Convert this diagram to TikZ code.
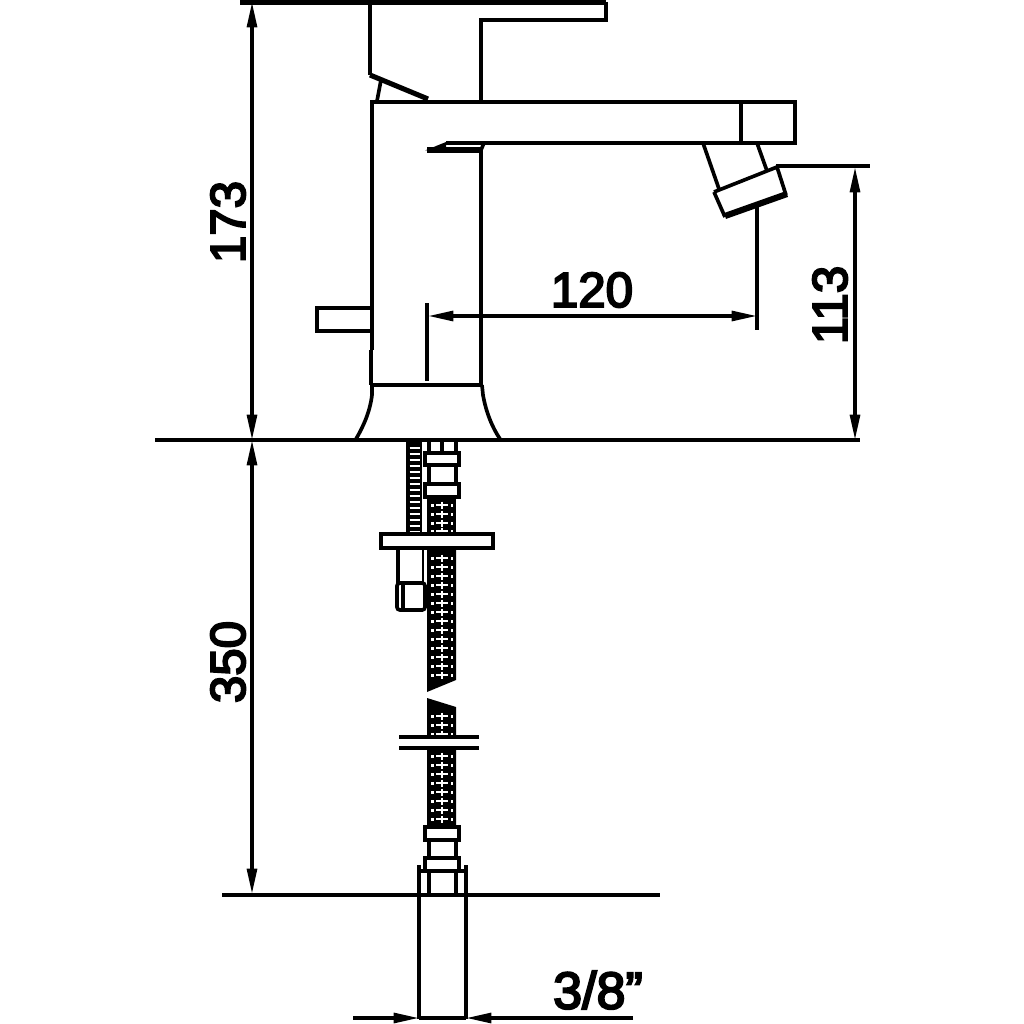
\documentclass[tikz,border=0pt]{standalone}
\usepackage{fontspec}
\setmainfont[FakeBold=4]{Liberation Sans}
\usetikzlibrary{arrows.meta}
\tikzset{
  part/.style={line width=2.6pt,line join=miter,line cap=butt},
  heavy/.style={line width=3.6pt},
  dimline/.style={{Stealth[length=18pt,width=7pt,inset=0pt]}-{Stealth[length=18pt,width=7pt,inset=0pt]},line width=2.4pt},
  dimarrow/.style={-{Stealth[length=18pt,width=7pt,inset=0pt]},line width=2.4pt},
  dimtext/.style={font=\fontsize{35}{35}\selectfont,inner sep=0pt},
  hosemark/.style={draw=white,line width=1.2pt}
}
\newcommand{\hosecell}[1]{%
  \draw[hosemark] (436,#1) -- (448,#1) (442,#1-3.5) -- (442,#1+3.5);
  \fill[white] (431,#1-1.5) rectangle (434,#1+1.5);
  \fill[white] (451,#1-1.5) rectangle (452.5,#1+1.5);
}
\begin{document}
\begin{tikzpicture}[x=0.025cm,y=-0.025cm]
\useasboundingbox[fill=white] (0,0) rectangle (1024,1024);
% upper lever
\draw[heavy] (240,2) -- (606,2);
\draw[part] (606,2) -- (606,20) -- (481,20) -- (481,100);
\draw[part] (370,2) -- (370,75);
\draw[heavy] (370,75) -- (428,99);
\draw[part] (381,80) -- (377,101);
% body and spout
\draw[part] (372,350) -- (372,102) -- (795,102) -- (795,143) -- (446,143);
\draw[part] (741,102) -- (741,143);
\draw[heavy] (427,150) -- (481,150);
\fill (425,150.5) -- (446,142) -- (446,150.5) -- cycle;
\draw[part] (484,143) -- (481,150) -- (481,385);
\draw[part] (371,350) -- (371,385);
\draw[part] (372,385) -- (482,385);
\draw[part] (372,385) -- (372,395) .. controls (370,412) and (363,427) .. (356,439);
\draw[part] (482,385) -- (483,395) .. controls (486,412) and (492,427) .. (500,439);
% lower lever
\draw[part] (372,308) -- (317,308) -- (317,331) -- (372,331);
% centre line
\draw[part] (427,303) -- (427,381);
% aerator
\draw[part] (703,143) -- (719,189);
\draw[part] (757,143) -- (767,171);
\draw[part] (714,192) -- (777,167) -- (786,195);
\draw[part] (714,192) -- (725,217);
\draw[line width=4.4pt] (725,216) -- (787,194);
% floor and datum lines
\draw[part] (155,440) -- (860,440);
\draw[part] (222,895) -- (660,895);
\draw[part] (776,166) -- (870,166);
\draw[part] (757,207) -- (757,330);
% ribbed hose
\fill (406,441) rectangle (422,534);
\foreach \y in {448,454,...,532}{\draw[white,line width=1.7pt] (409.5,\y) -- (419.5,\y);}
% braided hose
\fill (427,497) rectangle (456,534);
\fill (427,548) -- (456,548) -- (456,680) -- (427,692) -- cycle;
\fill (427,698) -- (456,707) -- (456,826) -- (427,826) -- cycle;
\foreach \y in {505,514,523,531,558,567,576,585,594,603,612,621,630,639,648,657,666,675,716,725,734,756,765,774,783,792,801,810,819}{\hosecell{\y}}
% upper fitting
\draw[part] (429,441) -- (429,453) (456,441) -- (456,453) (442,441) -- (442,453);
\draw[part,fill=white] (425,453) rectangle (459,465);
\draw[part] (429,465) -- (429,484) (456,465) -- (456,484);
\draw[part,fill=white] (425,484) rectangle (459,497);
% plate
\draw[part,fill=white] (381,534) rectangle (493,548);
% side fitting
\draw[part] (398,548) -- (398,583);
\draw[line width=1.6pt] (423,548) -- (423,583);
\draw[part,fill=white,rounded corners=2pt] (397,583) rectangle (425,610);
\draw[part] (403,583) -- (403,610);
% cut clips
\fill[white] (399,738) rectangle (479,747);
\draw[part] (399,737) -- (479,737) (399,748) -- (479,748);
% lower fitting
\draw[part,fill=white] (425,827) rectangle (459,840);
\draw[part] (429,840) -- (429,858) (456,840) -- (456,858);
\draw[part,fill=white] (425,858) rectangle (459,871);
\draw[part] (429,871) -- (429,895) (456,871) -- (456,895);
\draw[part] (420,871) -- (465,871);
\draw[part] (419,865) -- (419,1019) (466,865) -- (466,1019);
% dimensions
\coordinate (a1) at (252,2);  \coordinate (a2) at (252,440); \coordinate (a3) at (252,894);
\coordinate (b1) at (855,167); \coordinate (b2) at (855,440);
\coordinate (c1) at (428,316); \coordinate (c2) at (757,316);
\coordinate (d0) at (353,1018); \coordinate (d1) at (419,1018); \coordinate (d2) at (466,1018); \coordinate (d3) at (633,1018);
\draw[dimline] (a1) -- (a2);
\draw[dimline] (a2) -- (a3);
\draw[dimline] (b1) -- (b2);
\draw[dimline] (c1) -- (c2);
\draw[dimarrow] (d0) -- (d1);
\draw[dimarrow] (d3) -- (d2);
\draw[part] (d1) -- (d2);
\node[dimtext,rotate=90] (t173) at (228,222) {173};
\node[dimtext,rotate=90] (t350) at (228,662) {350};
\node[dimtext,rotate=90] (t113) at (830,305) {113};
\node[dimtext] (t120) at (592,290) {120};
\node[dimtext,font=\fontsize{37}{37}\selectfont] (t38) at (598,990) {3/8”};
\end{tikzpicture}
\end{document}
